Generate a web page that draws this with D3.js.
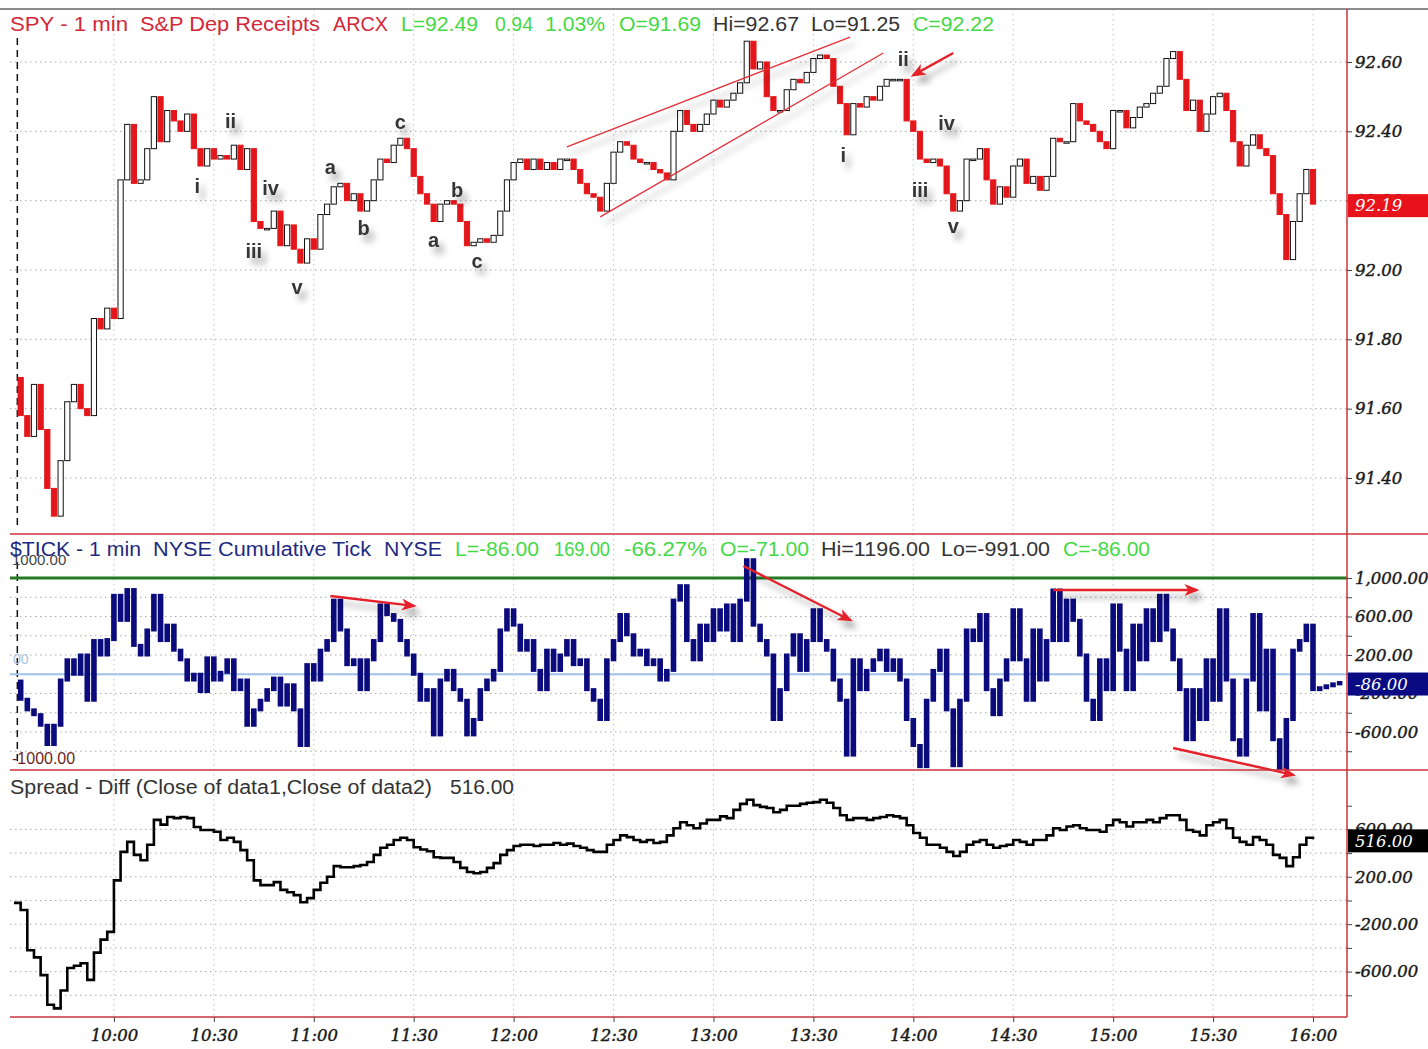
<!DOCTYPE html>
<html>
<head>
<meta charset="utf-8">
<script src="https://cdn.jsdelivr.net/npm/d3@7"></script>
<style>
  body { margin: 0; background: #fff; }
  svg { display: block; }
</style>
</head>
<body>
<svg id="chart"></svg>
<script>
// SPY 1-min session, one close every 2 minutes from 9:32 to 16:00
const spyOpen = 91.69
const spyClose = [
  91.58, 91.52, 91.67, 91.54, 91.37, 91.29, 91.45, 91.62, 91.67, 91.60,
  91.58, 91.86, 91.83, 91.89, 91.86, 92.26, 92.42, 92.25, 92.26, 92.35,
  92.50, 92.37, 92.46, 92.43, 92.40, 92.45, 92.35, 92.30, 92.35, 92.32,
  92.33, 92.32, 92.36, 92.29, 92.35, 92.14, 92.12, 92.12, 92.17, 92.07,
  92.13, 92.06, 92.02, 92.09, 92.06, 92.16, 92.19, 92.24, 92.25, 92.20,
  92.22, 92.17, 92.20, 92.26, 92.32, 92.31, 92.36, 92.38, 92.35, 92.27,
  92.22, 92.19, 92.14, 92.19, 92.20, 92.19, 92.14, 92.07, 92.08, 92.09,
  92.08, 92.10, 92.17, 92.26, 92.31, 92.32, 92.29, 92.32, 92.29, 92.31,
  92.29, 92.32, 92.32, 92.29, 92.25, 92.22, 92.21, 92.17, 92.25, 92.34,
  92.37, 92.36, 92.32, 92.31, 92.31, 92.29, 92.28, 92.26, 92.40, 92.46,
  92.42, 92.40, 92.42, 92.45, 92.49, 92.47, 92.49, 92.51, 92.54, 92.66,
  92.58, 92.60, 92.50, 92.46, 92.46, 92.52, 92.55, 92.54, 92.57, 92.61,
  92.62, 92.61, 92.53, 92.48, 92.39, 92.48, 92.47, 92.50, 92.49, 92.53,
  92.55, 92.55, 92.55, 92.43, 92.40, 92.32, 92.31, 92.32, 92.30, 92.22,
  92.17, 92.20, 92.32, 92.32, 92.35, 92.26, 92.19, 92.24, 92.21, 92.30,
  92.32, 92.25, 92.27, 92.23, 92.27, 92.38, 92.37, 92.37, 92.48, 92.43,
  92.42, 92.40, 92.37, 92.35, 92.46, 92.46, 92.41, 92.44, 92.47, 92.48,
  92.51, 92.53, 92.61, 92.63, 92.55, 92.46, 92.49, 92.40, 92.45, 92.50,
  92.51, 92.46, 92.37, 92.30, 92.36, 92.39, 92.35, 92.33, 92.22, 92.16,
  92.03, 92.14, 92.22, 92.29, 92.19
]

// NYSE $TICK, one close every 2 minutes from 9:32 to 16:08
const tickOpen = -71
const tickClose = [
  -260, -370, -420, -530, -730, -530, -60, 150, 0, 200,
  -270, 350, 200, 360, 820, 560, 880, 300, 200, 460,
  820, 350, 510, 250, 150, -60, 0, -180, 170, -60,
  20, 150, -160, -60, -530, -370, -270, -160, -40, -320,
  -110, -370, -740, 100, -60, 250, 350, 770, 460, 100,
  150, -160, 150, 350, 720, 620, 560, 350, 200, 0,
  -270, -160, -630, -60, 40, -160, -270, -630, -470, -160,
  -60, 40, 460, 670, 510, 250, 350, 40, -160, 250,
  40, 200, 350, 100, 150, -160, -270, -470, 150, 350,
  620, 410, 200, 250, 100, 150, -60, 40, 770, 920,
  350, 150, 510, 350, 670, 460, 720, 350, 770, 1190,
  510, 350, 200, -470, -160, 200, 410, 40, 350, 670,
  350, 250, -60, -270, -840, 150, -160, 40, 150, 250,
  40, 150, -60, -470, -740, -960, -270, 40, 250, -370,
  -950, -270, 460, 350, 620, -160, -420, -60, 150, 670,
  150, -270, 460, -60, 350, 875, 350, 770, 560, 200,
  -270, -470, 150, -160, 720, 250, -160, 510, 150, 670,
  350, 820, 460, 150, -160, -680, -160, -470, 150, -270,
  670, -60, -680, -840, -60, 620, -370, 250, -680, -985,
  -470, 250, 350, 510, -160, -140, -120, -100, -86
]

// Spread = Diff(close of data1, close of data2), every 2 minutes from 9:30 to 16:00
const spreadClose = [
  -20, -80, -420, -480, -630, -880, -910, -760, -570, -550,
  -530, -670, -440, -330, -265, 170, 410, 495, 385, 340,
  470, 680, 640, 705, 695, 705, 695, 620, 595, 595,
  580, 510, 530, 495, 425, 340, 170, 130, 130, 155,
  90, 70, 45, -15, 20, 90, 150, 200, 290, 280,
  280, 290, 300, 325, 385, 445, 470, 510, 530, 510,
  450, 430, 415, 365, 360, 360, 325, 275, 240, 230,
  240, 275, 315, 385, 425, 460, 470, 470, 460, 470,
  470, 485, 470, 480, 460, 445, 425, 410, 410, 470,
  510, 550, 535, 510, 495, 510, 485, 495, 550, 610,
  660, 635, 610, 650, 680, 680, 710, 695, 765, 815,
  850, 805, 790, 780, 745, 765, 800, 800, 815, 825,
  830, 850, 825, 780, 720, 680, 695, 695, 680, 695,
  705, 720, 710, 695, 635, 570, 530, 470, 470, 445,
  410, 375, 410, 470, 495, 510, 470, 445, 460, 470,
  510, 495, 470, 510, 510, 550, 610, 595, 625, 635,
  610, 595, 595, 580, 635, 680, 660, 625, 660, 660,
  680, 660, 695, 720, 720, 680, 595, 580, 550, 635,
  660, 680, 610, 530, 495, 470, 535, 510, 470, 385,
  360, 290, 365, 470, 530, 516
]

const timeTicks = ['10:00', '10:30', '11:00', '11:30', '12:00', '12:30', '13:00',
  '13:30', '14:00', '14:30', '15:00', '15:30', '16:00']
const priceTicks = [91.4, 91.6, 91.8, 92.0, 92.2, 92.4, 92.6]
const tickLabels = [1000, 600, 200, -200, -600]
const tickMinor = [-800, -600, -400, -200, 0, 200, 400, 600, 800, 1000]
const spreadLabels = [600, 200, -200, -600]
const spreadMinor = [-800, -600, -400, -200, 0, 200, 400, 600, 800]

const waveLabels = [
  { text: 'i', time: '10:25', value: 92.242 },
  { text: 'ii', time: '10:35', value: 92.430 },
  { text: 'iii', time: '10:42', value: 92.055 },
  { text: 'iv', time: '10:47', value: 92.237 },
  { text: 'v', time: '10:55', value: 91.951 },
  { text: 'a', time: '11:05', value: 92.297 },
  { text: 'b', time: '11:15', value: 92.121 },
  { text: 'c', time: '11:26', value: 92.427 },
  { text: 'a', time: '11:36', value: 92.087 },
  { text: 'b', time: '11:43', value: 92.231 },
  { text: 'c', time: '11:49', value: 92.026 },
  { text: 'i', time: '13:39', value: 92.332 },
  { text: 'ii', time: '13:57', value: 92.609 },
  { text: 'iii', time: '14:02', value: 92.231 },
  { text: 'iv', time: '14:10', value: 92.424 },
  { text: 'v', time: '14:12', value: 92.127 }
]
const channelLines = [
  { from: ['12:16', 92.355], to: ['13:41', 92.672] },
  { from: ['12:26', 92.153], to: ['13:51', 92.626] }
]
const priceArrows = [
  { from: ['14:12', 92.626], to: ['14:00', 92.562] }
]
const tickArrows = [
  { from: ['11:05', 813], to: ['11:30', 710] },
  { from: ['13:09', 1125], to: ['13:41', 564] },
  { from: ['14:42', 875], to: ['15:25', 875] },
  { from: ['15:18', -766], to: ['15:54', -1046] }
]

const toMin = (s) => {
  const [h, m] = s.split(':').map(Number)
  return (h - 9) * 60 + m - 30
}

const W = 1428
const H = 1049
const plotLeft = 10
const plotRight = 1347
const panelTop = { price: 9, tick: 534, spread: 770 }
const panelBottom = { price: 534, tick: 770, spread: 1017 }
const sepColor = '#c8363c'
const candleRed = '#e3171b'
const navy = '#0b0b7d'
const green = '#45d845'
const serif = '"DejaVu Serif", serif'
const sans = '"Liberation Sans", Arial, sans-serif'

const x = d3.scaleLinear().domain([0, 390]).range([14, 1313])
const yPrice = d3.scaleLinear().domain([91.4, 92.6]).range([478, 62])
const yTick = d3.scaleLinear().domain([-600, 1000]).range([732, 578])
const ySpread = d3.scaleLinear().domain([-600, 600]).range([971.6, 829.4])

const fmtLocale = d3.formatLocale({ decimal: '.', thousands: ',', grouping: [3], currency: ['', ''], minus: '-' })
const fmtPrice = fmtLocale.format('.2f')
const fmtCount = fmtLocale.format(',.2f')

const svg = d3.select('#chart')
  .attr('width', W)
  .attr('height', H)
  .style('font-family', sans)

const defs = svg.append('defs')
const shadow = defs.append('filter')
  .attr('id', 'shadow')
  .attr('x', '-50%').attr('y', '-50%')
  .attr('width', '200%').attr('height', '200%')
shadow.append('feDropShadow')
  .attr('dx', 5).attr('dy', 7)
  .attr('stdDeviation', 3)
  .attr('flood-color', '#000')
  .attr('flood-opacity', 0.35)
defs.append('marker')
  .attr('id', 'arrowhead')
  .attr('markerUnits', 'userSpaceOnUse')
  .attr('markerWidth', 16).attr('markerHeight', 12)
  .attr('refX', 12).attr('refY', 6)
  .attr('orient', 'auto')
  .append('path')
  .attr('d', 'M0,0 L15,6 L0,12 L4,6 Z')
  .attr('fill', '#e5202a')

Object.keys(panelTop).forEach((k) => {
  defs.append('clipPath')
    .attr('id', 'clip-' + k)
    .append('rect')
    .attr('x', plotLeft)
    .attr('y', panelTop[k])
    .attr('width', plotRight - plotLeft)
    .attr('height', panelBottom[k] - panelTop[k])
})

svg.append('rect').attr('width', W).attr('height', H).attr('fill', '#fff')

// grid
const grid = svg.append('g')
  .attr('stroke', '#a9a9a9')
  .attr('stroke-dasharray', '1.5,3.5')
  .attr('stroke-width', 1)
grid.selectAll('line.vgrid')
  .data(timeTicks)
  .enter()
  .append('line')
  .attr('x1', (d) => x(toMin(d)))
  .attr('x2', (d) => x(toMin(d)))
  .attr('y1', panelTop.price)
  .attr('y2', panelBottom.spread)
  .attr('stroke', '#c4c4c4')
const hgrid = (scale, values, key) => {
  grid.selectAll('line.h-' + key)
    .data(values)
    .enter()
    .append('line')
    .attr('x1', plotLeft)
    .attr('x2', plotRight)
    .attr('y1', (d) => scale(d))
    .attr('y2', (d) => scale(d))
}
hgrid(yPrice, priceTicks, 'price')
hgrid(yTick, tickMinor.filter((d) => d !== 0 && d !== 1000), 'tick')
hgrid(ySpread, spreadMinor.filter((d) => d !== 800), 'spread')

// session start
svg.append('g')
  .attr('stroke', '#111')
  .attr('stroke-width', 1.5)
  .attr('stroke-dasharray', '7,5')
  .selectAll('line')
  .data([[38, 530], [562, 766]])
  .enter()
  .append('line')
  .attr('x1', x(1)).attr('x2', x(1))
  .attr('y1', (d) => d[0]).attr('y2', (d) => d[1])

// candles
const bars = spyClose.map((c, i) => ({
  t: 2 * (i + 1),
  o: i === 0 ? spyOpen : spyClose[i - 1],
  c: c
}))
svg.append('g')
  .attr('clip-path', 'url(#clip-price)')
  .selectAll('rect')
  .data(bars)
  .enter()
  .append('rect')
  .attr('x', (d) => x(d.t) - 2.6)
  .attr('width', 5.2)
  .attr('y', (d) => yPrice(Math.max(d.o, d.c)))
  .attr('height', (d) => Math.max(Math.abs(yPrice(d.o) - yPrice(d.c)), 1.5))
  .attr('fill', (d) => d.c >= d.o ? '#fff' : candleRed)
  .attr('stroke', (d) => d.c >= d.o ? '#111' : candleRed)
  .attr('stroke-width', 1)

// channel
svg.append('g')
  .attr('filter', 'url(#shadow)')
  .selectAll('line')
  .data(channelLines)
  .enter()
  .append('line')
  .attr('x1', (d) => x(toMin(d.from[0])))
  .attr('y1', (d) => yPrice(d.from[1]))
  .attr('x2', (d) => x(toMin(d.to[0])))
  .attr('y2', (d) => yPrice(d.to[1]))
  .attr('stroke', '#e2313a')
  .attr('stroke-width', 1.4)

// wave counts
svg.append('g')
  .attr('filter', 'url(#shadow)')
  .selectAll('text')
  .data(waveLabels)
  .enter()
  .append('text')
  .attr('x', (d) => x(toMin(d.time)))
  .attr('y', (d) => yPrice(d.value))
  .attr('dy', '0.35em')
  .attr('text-anchor', 'middle')
  .attr('font-size', 20)
  .attr('font-weight', 'bold')
  .attr('fill', '#363636')
  .text((d) => d.text)

// tick panel reference lines
svg.append('line')
  .attr('x1', plotLeft).attr('x2', plotRight)
  .attr('y1', yTick(1000)).attr('y2', yTick(1000))
  .attr('stroke', '#237a23').attr('stroke-width', 3)
svg.append('line')
  .attr('x1', plotLeft).attr('x2', plotRight)
  .attr('y1', yTick(0)).attr('y2', yTick(0))
  .attr('stroke', '#9fc1ea').attr('stroke-width', 2)

const tickBars = tickClose.map((c, i) => ({
  t: 2 * (i + 1),
  o: i === 0 ? tickOpen : tickClose[i - 1],
  c: c
}))
svg.append('g')
  .attr('clip-path', 'url(#clip-tick)')
  .selectAll('rect')
  .data(tickBars)
  .enter()
  .append('rect')
  .attr('x', (d) => x(d.t) - 2.8)
  .attr('width', 5.6)
  .attr('y', (d) => yTick(Math.max(d.o, d.c)) - 1.5)
  .attr('height', (d) => Math.abs(yTick(d.o) - yTick(d.c)) + 3)
  .attr('fill', navy)

// spread line
const spreadLine = d3.line()
  .x((d, i) => x(2 * i))
  .y((d) => ySpread(d))
  .curve(d3.curveStepAfter)
svg.append('path')
  .datum(spreadClose)
  .attr('clip-path', 'url(#clip-spread)')
  .attr('d', spreadLine)
  .attr('fill', 'none')
  .attr('stroke', '#000')
  .attr('stroke-width', 2.6)

// arrows
const drawArrows = (list, scale) => {
  svg.append('g')
    .attr('filter', 'url(#shadow)')
    .selectAll('line')
    .data(list)
    .enter()
    .append('line')
    .attr('x1', (d) => x(toMin(d.from[0])))
    .attr('y1', (d) => scale(d.from[1]))
    .attr('x2', (d) => x(toMin(d.to[0])))
    .attr('y2', (d) => scale(d.to[1]))
    .attr('stroke', '#e5202a')
    .attr('stroke-width', 2.4)
    .attr('marker-end', 'url(#arrowhead)')
}
drawArrows(priceArrows, yPrice)
drawArrows(tickArrows, yTick)

// frame
svg.append('line')
  .attr('x1', 0).attr('x2', W)
  .attr('y1', 9).attr('y2', 9)
  .attr('stroke', '#666').attr('stroke-width', 1.5)
svg.append('g')
  .attr('stroke', sepColor)
  .attr('stroke-width', 1.5)
  .selectAll('line')
  .data([[plotLeft, W, 534], [plotLeft, W, 770], [plotLeft, plotRight, 1017]])
  .enter()
  .append('line')
  .attr('x1', (d) => d[0]).attr('x2', (d) => d[1])
  .attr('y1', (d) => d[2]).attr('y2', (d) => d[2])
svg.append('line')
  .attr('x1', plotRight).attr('x2', plotRight)
  .attr('y1', 9).attr('y2', 1017)
  .attr('stroke', sepColor).attr('stroke-width', 1.5)

// right axes
const styleAxis = (g) => {
  g.select('.domain').remove()
  g.selectAll('.tick line').attr('stroke', '#444')
  g.selectAll('.tick text')
    .attr('font-family', serif)
    .attr('font-style', 'italic')
    .attr('font-size', 16.5)
    .attr('fill', '#1a1a1a')
    .attr('stroke', '#1a1a1a')
    .attr('stroke-width', 0.45)
}
svg.append('g')
  .attr('transform', 'translate(' + plotRight + ',0)')
  .call(d3.axisRight(yPrice).tickValues(priceTicks).tickSize(5).tickFormat(fmtPrice))
  .call(styleAxis)
svg.append('g')
  .attr('transform', 'translate(' + plotRight + ',0)')
  .call(d3.axisRight(yTick).tickValues(tickMinor).tickSize(5)
    .tickFormat((d) => tickLabels.includes(d) ? fmtCount(d) : ''))
  .call(styleAxis)
svg.append('g')
  .attr('transform', 'translate(' + plotRight + ',0)')
  .call(d3.axisRight(ySpread).tickValues(spreadMinor).tickSize(5)
    .tickFormat((d) => spreadLabels.includes(d) ? fmtCount(d) : ''))
  .call(styleAxis)

// time axis
svg.append('g')
  .attr('transform', 'translate(0,' + panelBottom.spread + ')')
  .call(d3.axisBottom(x).tickValues(timeTicks.map(toMin)).tickSize(5)
    .tickFormat((d, i) => timeTicks[i]))
  .call(styleAxis)
  .call((g) => g.selectAll('.tick text').attr('dy', '0.95em'))

// last value boxes
const lastBoxes = [
  { v: spyClose[spyClose.length - 1], scale: yPrice, fill: '#e8121a', text: fmtPrice },
  { v: tickClose[tickClose.length - 1], scale: yTick, fill: '#0a0a82', text: fmtCount },
  { v: spreadClose[spreadClose.length - 1], scale: ySpread, fill: '#000', text: fmtCount }
]
const boxes = svg.append('g')
  .selectAll('g')
  .data(lastBoxes)
  .enter()
  .append('g')
boxes.append('rect')
  .attr('x', plotRight + 1)
  .attr('y', (d) => d.scale(d.v) - 10)
  .attr('width', W - plotRight - 1)
  .attr('height', 23)
  .attr('fill', (d) => d.fill)
boxes.append('text')
  .attr('x', plotRight + 8)
  .attr('y', (d) => d.scale(d.v) + 1.5)
  .attr('dy', '0.35em')
  .attr('font-family', serif)
  .attr('font-style', 'italic')
  .attr('font-size', 16.5)
  .attr('fill', '#fff')
  .text((d) => d.text(d.v))

// reference line captions in tick panel
svg.append('text')
  .attr('x', 12).attr('y', 565)
  .attr('font-size', 15).attr('fill', '#444')
  .text('1000.00')
svg.append('text')
  .attr('x', 12).attr('y', 764)
  .attr('font-size', 16).attr('fill', '#6e1f1f')
  .text('-1000.00')
svg.append('text')
  .attr('x', 13).attr('y', 664)
  .attr('font-size', 14).attr('fill', '#a9c2e4')
  .text('00')

// titles
const titles = [
  { y: 31, parts: [
    ['SPY - 1 min', 10, 118, '#d2283a'], ['S&P Dep Receipts', 140, 180, '#d2283a'], ['ARCX', 333, 55, '#d2283a'],
    ['L=92.49', 401, 77, green], ['0.94', 495, 38, green], ['1.03%', 545, 60, green], ['O=91.69', 619, 82, green],
    ['Hi=92.67', 713, 86, '#333'], ['Lo=91.25', 811, 89, '#333'], ['C=92.22', 913, 81, green]
  ] },
  { y: 556, parts: [
    ['$TICK - 1 min', 10, 131, '#1d2a80'], ['NYSE Cumulative Tick', 153, 218, '#1d2a80'], ['NYSE', 384, 58, '#1d2a80'],
    ['L=-86.00', 455, 84, green], ['169.00', 554, 56, green], ['-66.27%', 624, 83, green], ['O=-71.00', 720, 89, green],
    ['Hi=1196.00', 821, 109, '#333'], ['Lo=-991.00', 941, 109, '#333'], ['C=-86.00', 1063, 87, green]
  ] },
  { y: 794, parts: [
    ['Spread - Diff (Close of data1,Close of data2)', 10, 422, '#333'], ['516.00', 450, 64, '#333']
  ] }
]
titles.forEach((row) => {
  svg.append('g')
    .selectAll('text')
    .data(row.parts)
    .enter()
    .append('text')
    .attr('x', (d) => d[1])
    .attr('y', row.y)
    .attr('font-size', 20)
    .attr('textLength', (d) => d[2])
    .attr('lengthAdjust', 'spacingAndGlyphs')
    .attr('fill', (d) => d[3])
    .text((d) => d[0])
})
</script>
</body>
</html>
